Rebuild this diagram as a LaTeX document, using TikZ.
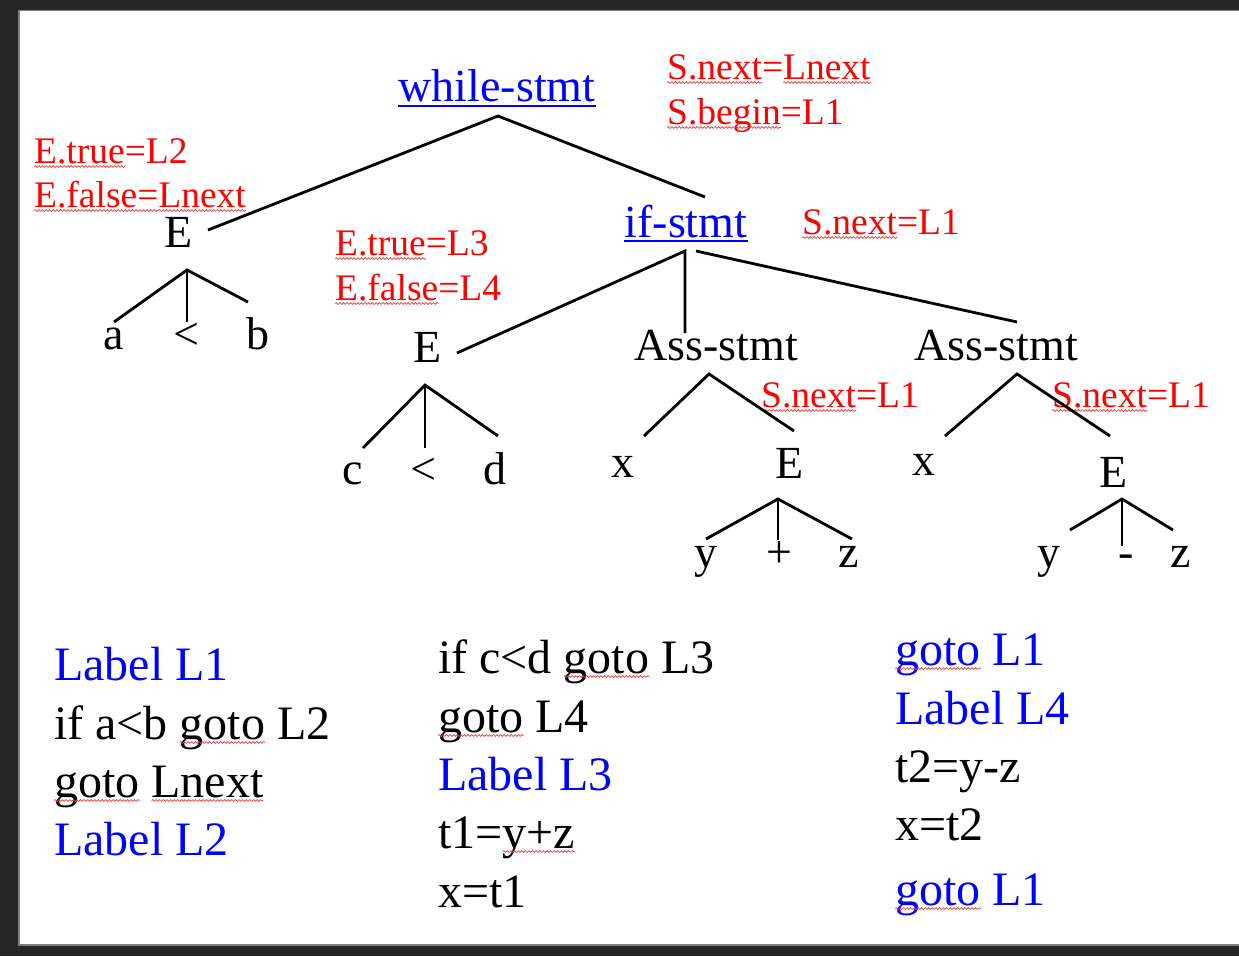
\documentclass[tikz,border=0pt]{standalone}
\usepackage{fontspec}
\setmainfont{Liberation Serif}
\usetikzlibrary{decorations.pathmorphing}
\definecolor{spellred}{RGB}{235,60,60}
\definecolor{framegray}{RGB}{38,38,38}
\definecolor{edgegray}{RGB}{128,128,128}
\newdimen\spellwd
\newcommand\spell[1]{\leavevmode\setbox0\hbox{#1}\spellwd=\wd0\rlap{\box0}%
  \tikz[baseline=0pt,x=1pt,y=1pt]{\useasboundingbox (0pt,0pt) rectangle (\spellwd,0pt);
  \draw[spellred,line width=0.7pt,decorate,decoration={snake,amplitude=0.9pt,segment length=3.6pt}] (0pt,-3.5pt) -- (\spellwd,-3.5pt);}}
\tikzset{
  tree/.style={inner sep=0pt, font=\fontsize{46}{46}\selectfont, anchor=base},
  blue tree/.style={tree, text=blue},
  attr/.style={inner sep=0pt, font=\fontsize{37.5}{37.5}\selectfont, text=red, anchor=base west},
  code/.style={inner sep=0pt, font=\fontsize{48}{48}\selectfont, anchor=base west},
  kw/.style={code, text=blue},
  branch/.style={line width=2.8pt},
  blueline/.style={draw=blue, line width=2.4pt},
}
\begin{document}
\begin{tikzpicture}[x=1pt,y=-1pt]
\useasboundingbox (0,0) rectangle (1239,956);
\fill[framegray] (0,0) rectangle (1239,956);
\filldraw[fill=white, draw=edgegray, line width=1.5pt] (19,10.5) rectangle (1250,945);

% tree nodes
\node[blue tree] (ws) at (497,101) {while-stmt};
\node[blue tree] (ifs) at (686,237) {if-stmt};
\node[tree] (E1) at (179,247) {E};
\node[tree] (a) at (114,349) {a};
\node[tree] (lt1) at (186,349) {<};
\node[tree] (b) at (258,349) {b};
\node[tree] (E2) at (428,362) {E};
\node[tree] (c) at (353,484) {c};
\node[tree] (lt2) at (423,484) {<};
\node[tree] (d) at (495,484) {d};
\node[tree] (as1) at (716,360) {Ass-stmt};
\node[tree] (as2) at (996,360) {Ass-stmt};
\node[tree] (x1) at (623,477) {x};
\node[tree] (E3) at (790,478) {E};
\node[tree] (x2) at (924,475) {x};
\node[tree] (E4) at (1114,487) {E};
\node[tree] (y1) at (706,567) {y};
\node[tree] (plus) at (779,567) {+};
\node[tree] (z1) at (849,567) {z};
\node[tree] (y2) at (1049,567) {y};
\node[tree] (minus) at (1126,567) {-};
\node[tree] (z2) at (1181,567) {z};

% underlines of the blue nodes
\draw[blueline] ([yshift=-5pt]ws.base west) -- ([yshift=-5pt]ws.base east);
\draw[blueline] ([yshift=-4pt]ifs.base west) -- ([yshift=-4pt]ifs.base east);

% attribute labels
\node[attr] (snl) at (667,79) {\spell{S.next}=\spell{Lnext}};
\node[attr] (sbl) at (667,124) {\spell{S.begin}=L1};
\node[attr] (et2) at (34,163) {\spell{E.true}=L2};
\node[attr] (ef) at (34,207) {\spell{E.false=}\spell{Lnext}};
\node[attr] (snif) at (802,234) {\spell{S.next}=L1};
\node[attr] (et3) at (335,255) {\spell{E.true}=L3};
\node[attr] (ef4) at (335,300) {\spell{E.false}=L4};
\node[attr] (sn1) at (761,407) {\spell{S.next}=L1};
\node[attr] (sn2) at (1052,407) {\spell{S.next}=L1};

% branch points
\coordinate (wsA) at (498,116);
\coordinate (wsL) at (208,230);
\coordinate (wsR) at (705,197);
\coordinate (E1A) at (187,270);
\coordinate (E1a) at (114,322);
\coordinate (E1m) at (187,322);
\coordinate (E1b) at (248,302);
\coordinate (ifA) at (685,251);
\coordinate (ifAr) at (696,251);
\coordinate (ifL) at (457,353);
\coordinate (ifM) at (685,333);
\coordinate (ifR) at (1017,322);
\coordinate (E2A) at (425,385);
\coordinate (E2c) at (363,448);
\coordinate (E2m) at (425,448);
\coordinate (E2d) at (498,436);
\coordinate (as1A) at (709,374);
\coordinate (as1x) at (644,436);
\coordinate (as1E) at (794,431);
\coordinate (as2A) at (1017,374);
\coordinate (as2x) at (945,436);
\coordinate (as2E) at (1110,436);
\coordinate (E3A) at (778,499);
\coordinate (E3y) at (706,539);
\coordinate (E3m) at (778,540);
\coordinate (E3z) at (852,539);
\coordinate (E4A) at (1122,499);
\coordinate (E4y) at (1070,530);
\coordinate (E4m) at (1122,546);
\coordinate (E4z) at (1173,530);

\draw[branch] (wsL) -- (wsA) -- (wsR);
\draw[branch] (E1a) -- (E1A) -- (E1b);
\draw[branch] (E1A) -- (E1m);
\draw[branch] (ifL) -- (ifA) -- (ifM);
\draw[branch] (ifAr) -- (ifR);
\draw[branch] (E2c) -- (E2A) -- (E2d);
\draw[branch] (E2A) -- (E2m);
\draw[branch] (as1x) -- (as1A) -- (as1E);
\draw[branch] (as2x) -- (as2A) -- (as2E);
\draw[branch] (E3y) -- (E3A) -- (E3z);
\draw[branch] (E3A) -- (E3m);
\draw[branch] (E4y) -- (E4A) -- (E4z);
\draw[branch] (E4A) -- (E4m);

% generated code
\node[kw] (c1) at (54,680) {Label L1};
\node[code] (c2) at (54,739) {if a<b \spell{goto} L2};
\node[code] (c3) at (54,797) {\spell{goto} \spell{Lnext}};
\node[kw] (c4) at (54,855) {Label L2};

\node[code] (d1) at (438,673) {if c<d \spell{goto} L3};
\node[code] (d2) at (438,732) {\spell{goto} L4};
\node[kw] (d3) at (438,790) {Label L3};
\node[code] (d4) at (438,848) {t1=\spell{y+z}};
\node[code] (d5) at (438,907) {x=t1};

\node[kw] (e1) at (895,665) {\spell{goto} L1};
\node[kw] (e2) at (895,724) {Label L4};
\node[code] (e3) at (895,782) {t2=y-z};
\node[code] (e4) at (895,840) {x=t2};
\node[kw] (e5) at (895,905) {\spell{goto} L1};
\end{tikzpicture}
\end{document}
